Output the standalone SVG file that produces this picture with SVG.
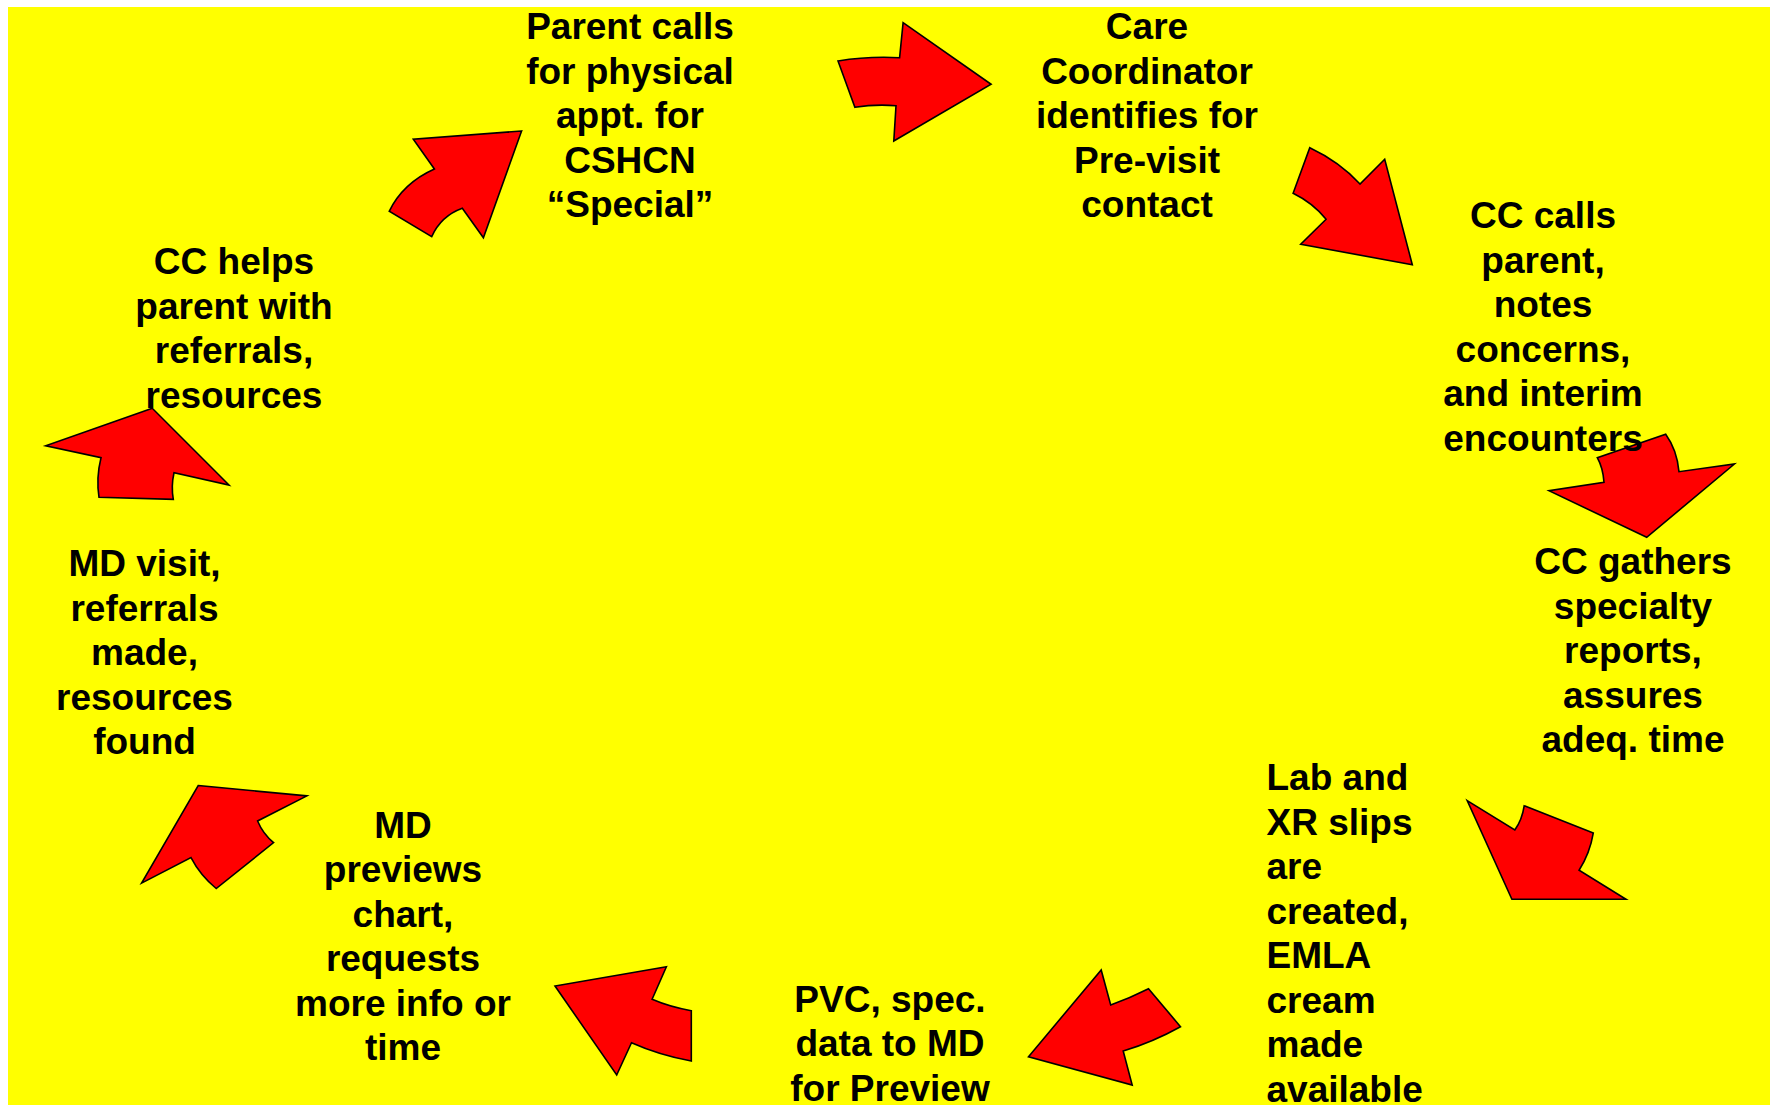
<svg xmlns="http://www.w3.org/2000/svg" width="1770" height="1105" viewBox="0 0 1770 1105">
<style>
.arrow{fill:#FF0000;stroke:#000000;stroke-width:1.6;stroke-linejoin:miter}
.lbl{font-family:"Liberation Sans",Arial,sans-serif;font-weight:bold;font-size:37px;fill:#000000}
.c{text-anchor:middle}
</style>
<rect x="0" y="0" width="1770" height="1105" fill="#FFFFFF"/>
<rect x="8" y="7" width="1762" height="1098" fill="#FFFF00"/>
<g id="connectors">
<path class="arrow" d="M521.6,131 L413.3,139.3 L434.4,169 Q403,183 389.2,211.3 L431.7,236.7 Q441,216 462.3,208.3 L483.4,237.7 Z"/>
<path class="arrow" d="M838,61 Q868,56 899.6,57.7 L903.1,22.7 L991.1,84.3 L893.8,141 L896,105.7 Q875,104 854.9,107.3 Z"/>
<path class="arrow" d="M1309.8,147.7 Q1340,162 1360,184 L1384.7,159.3 L1412.3,264.7 L1300.7,244.3 L1326.1,219.3 Q1313,203 1293.1,193.3 Z"/>
<path class="arrow" d="M1665.7,434.3 Q1677,450 1679,471.7 L1734.4,464 L1646.7,537.3 L1549,490.7 L1604,482.3 Q1603,468 1597.3,457.7 Z"/>
<path class="arrow" d="M1467.2,800.6 L1514.8,830 Q1522,820 1524.2,805.8 L1593.3,832.9 Q1590,853 1579.1,870.3 L1626,899.3 L1511.9,899.3 Z"/>
<path class="arrow" d="M1101.2,970 L1110.7,1005 Q1130,998 1148.5,988.7 L1180.5,1026.7 Q1153,1042 1123.2,1051 L1132.2,1085 L1028.5,1056.7 Z"/>
<path class="arrow" d="M666.4,966.7 L652.1,999.3 Q670,1007 691.3,1010.7 L691.3,1061 Q659,1055 631.5,1042.7 L616.7,1075 L555,986 Z"/>
<path class="arrow" d="M198.2,785.5 L306.9,795.9 L257.6,821 Q263,834 273.6,842.6 L216.2,888.5 Q200,875 191,857.6 L141.6,883.1 Z"/>
<path class="arrow" d="M152.3,408.3 L45.7,445.7 L101,457.7 Q96,478 99,497.3 L173.3,499.3 Q171,486 174,472.7 L229,485 Z"/>
</g>
<g id="node-parent-calls">
<text class="lbl c" x="630" y="39.3">Parent calls</text>
<text class="lbl c" x="630" y="83.8">for physical</text>
<text class="lbl c" x="630" y="128.3">appt. for</text>
<text class="lbl c" x="630" y="172.8">CSHCN</text>
<text class="lbl c" x="630" y="217.3">“Special”</text>
</g>
<g id="node-care-coordinator">
<text class="lbl c" x="1147" y="39.3">Care</text>
<text class="lbl c" x="1147" y="83.8">Coordinator</text>
<text class="lbl c" x="1147" y="128.3">identifies for</text>
<text class="lbl c" x="1147" y="172.8">Pre-visit</text>
<text class="lbl c" x="1147" y="217.3">contact</text>
</g>
<g id="node-cc-calls">
<text class="lbl c" x="1543" y="228">CC calls</text>
<text class="lbl c" x="1543" y="272.5">parent,</text>
<text class="lbl c" x="1543" y="317">notes</text>
<text class="lbl c" x="1543" y="361.5">concerns,</text>
<text class="lbl c" x="1543" y="406">and interim</text>
<text class="lbl c" x="1543" y="450.5">encounters</text>
</g>
<g id="node-cc-gathers">
<text class="lbl c" x="1633" y="574">CC gathers</text>
<text class="lbl c" x="1633" y="618.5">specialty</text>
<text class="lbl c" x="1633" y="663">reports,</text>
<text class="lbl c" x="1633" y="707.5">assures</text>
<text class="lbl c" x="1633" y="752">adeq. time</text>
</g>
<g id="node-lab-xr">
<text class="lbl" x="1266.5" y="790.4">Lab and</text>
<text class="lbl" x="1266.5" y="834.9">XR slips</text>
<text class="lbl" x="1266.5" y="879.4">are</text>
<text class="lbl" x="1266.5" y="923.9">created,</text>
<text class="lbl" x="1266.5" y="968.4">EMLA</text>
<text class="lbl" x="1266.5" y="1012.9">cream</text>
<text class="lbl" x="1266.5" y="1057.4">made</text>
<text class="lbl" x="1266.5" y="1101.9">available</text>
</g>
<g id="node-pvc">
<text class="lbl c" x="890" y="1011.7">PVC, spec.</text>
<text class="lbl c" x="890" y="1056.2">data to MD</text>
<text class="lbl c" x="890" y="1100.7">for Preview</text>
</g>
<g id="node-md-previews">
<text class="lbl c" x="403" y="837.6">MD</text>
<text class="lbl c" x="403" y="882.1">previews</text>
<text class="lbl c" x="403" y="926.6">chart,</text>
<text class="lbl c" x="403" y="971.1">requests</text>
<text class="lbl c" x="403" y="1015.6">more info or</text>
<text class="lbl c" x="403" y="1060.1">time</text>
</g>
<g id="node-md-visit">
<text class="lbl c" x="144.5" y="576.4">MD visit,</text>
<text class="lbl c" x="144.5" y="620.9">referrals</text>
<text class="lbl c" x="144.5" y="665.4">made,</text>
<text class="lbl c" x="144.5" y="709.9">resources</text>
<text class="lbl c" x="144.5" y="754.4">found</text>
</g>
<g id="node-cc-helps">
<text class="lbl c" x="234" y="274">CC helps</text>
<text class="lbl c" x="234" y="318.5">parent with</text>
<text class="lbl c" x="234" y="363">referrals,</text>
<text class="lbl c" x="234" y="407.5">resources</text>
</g>
</svg>
